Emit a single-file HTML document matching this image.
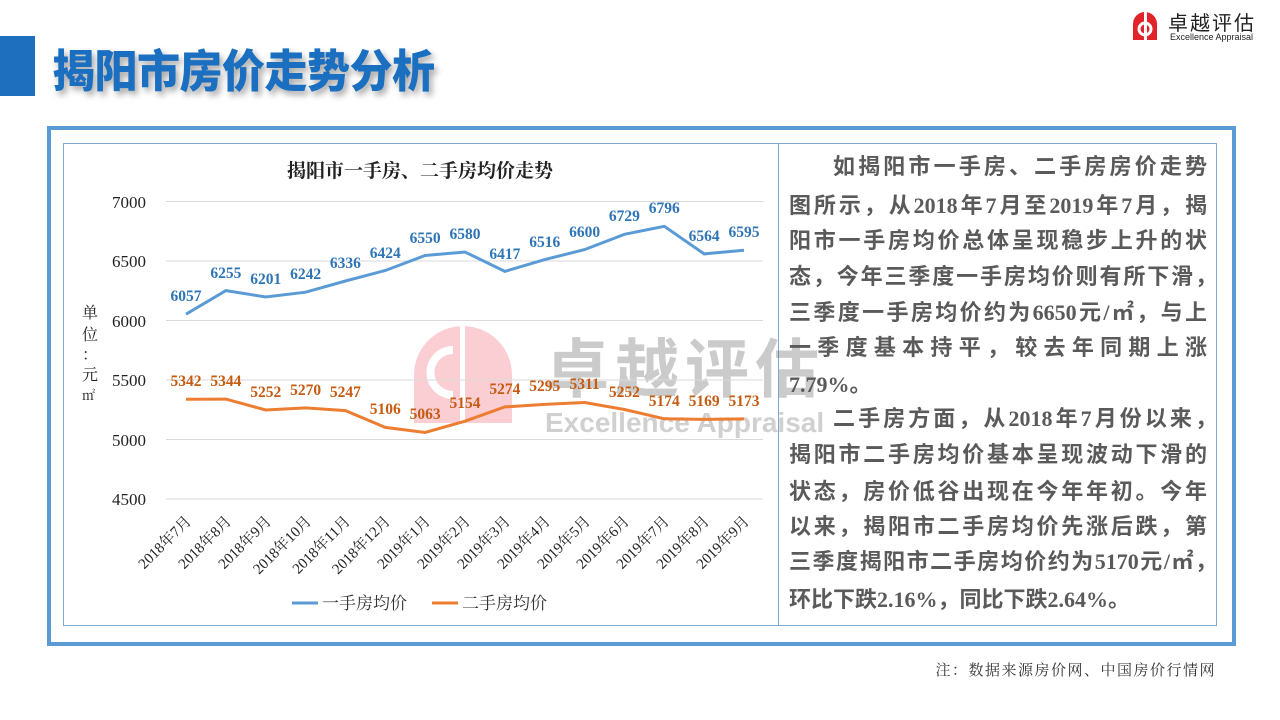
<!DOCTYPE html>
<html><head><meta charset="utf-8"><style>
body{margin:0;width:1280px;height:720px;background:#fff;position:relative;overflow:hidden;font-family:"Liberation Sans","Noto Sans CJK SC",sans-serif}
.l{position:absolute;left:789px;width:418px;font-size:22px;font-weight:bold;color:#5a5a5a;text-align:justify;text-align-last:justify;white-space:nowrap;line-height:26px;font-family:"Liberation Serif","Noto Sans CJK SC",sans-serif}
</style></head><body>
<div style="position:absolute;left:0;top:36px;width:35px;height:60px;background:#1f6fbf"></div>
<div style="position:absolute;left:52px;top:40px;font-size:43px;font-weight:900;color:#1b6fc0;letter-spacing:-0.5px;font-family:'Noto Sans CJK SC',sans-serif;text-shadow:3px 4px 6px rgba(0,0,0,0.35);line-height:56px;transform:scaleY(1.05)">揭阳市房价走势分析</div>
<svg style="position:absolute;left:1127px;top:8px" width="36" height="36"><path d="M6 32 V16 A12 12 0 0 1 30 16 V32 Z" fill="#e0242a"/><rect x="17" y="4" width="3" height="28" fill="#fff"/><circle cx="18" cy="21" r="6" fill="none" stroke="#fff" stroke-width="3"/></svg>
<div style="position:absolute;left:1168px;top:7px;font-size:20px;color:#222;font-family:'Noto Sans CJK SC',sans-serif;letter-spacing:2px">卓越评估</div>
<div style="position:absolute;left:1170px;top:32px;font-size:9px;color:#222">Excellence Appraisal</div>
<div style="position:absolute;left:47px;top:126px;width:1181px;height:512px;border:4px solid #5b9bd5"></div>
<div style="position:absolute;left:63px;top:143px;width:714px;height:481px;border:1px solid #7fa8d0"></div>
<div style="position:absolute;left:778px;top:143px;width:437px;height:481px;border:1px solid #7fa8d0"></div>
<svg style="position:absolute;left:0;top:0" width="1280" height="720" font-family="Liberation Serif,Noto Serif CJK SC,serif">
<g opacity="0.3"><path d="M414 423 V375 A49 49 0 0 1 512 375 V423 Z" fill="#f06070"/><rect x="460" y="322" width="5" height="101" fill="#fff"/><path d="M453 395 A18 18 0 1 1 453 350" fill="none" stroke="#fff" stroke-width="8"/></g>
<g opacity="0.3"><text x="545" y="392" font-size="64" fill="#555" font-family="Noto Sans CJK SC,sans-serif" font-weight="bold" letter-spacing="6">卓越评估</text><text x="545" y="432" font-size="28" fill="#666" font-family="Liberation Sans,sans-serif" font-weight="bold">Excellence Appraisal</text></g>
<text x="420" y="177" font-size="19" font-weight="bold" text-anchor="middle" fill="#222" font-family="Noto Serif CJK SC,serif">揭阳市一手房、二手房均价走势</text>
<g stroke="#d9d9d9" stroke-width="1">
<line x1="166" x2="763" y1="201.5" y2="201.5"/><line x1="166" x2="763" y1="261" y2="261"/><line x1="166" x2="763" y1="320.5" y2="320.5"/><line x1="166" x2="763" y1="380" y2="380"/><line x1="166" x2="763" y1="439.5" y2="439.5"/><line x1="166" x2="763" y1="499" y2="499"/></g>
<g font-size="17" fill="#222" text-anchor="end"><text x="146" y="208">7000</text><text x="146" y="267">6500</text><text x="146" y="327">6000</text><text x="146" y="386">5500</text><text x="146" y="446">5000</text><text x="146" y="505">4500</text></g>
<g font-size="16" fill="#222" font-family="Noto Serif CJK SC,serif"><text x="82" y="318">单</text><text x="82" y="340">位</text><text x="82" y="360">：</text><text x="82" y="380">元</text><text x="82" y="400" font-size="13">㎡</text></g>
<polyline fill="none" stroke="#5b9bd5" stroke-width="3" points="186,314.2 225.9,290.6 265.7,297.0 305.6,292.2 345.4,281.0 385.3,270.5 425.1,255.5 465,252.0 504.9,271.4 544.7,259.6 584.6,249.6 624.4,234.3 664.3,226.3 704.1,253.9 744,250.2"/>
<polyline fill="none" stroke="#ed7d31" stroke-width="3" points="186,399.3 225.9,399.1 265.7,410.0 305.6,407.9 345.4,410.6 385.3,427.4 425.1,432.5 465,421.2 504.9,406.9 544.7,404.4 584.6,402.5 624.4,409.5 664.3,418.8 704.1,419.4 744,418.9"/>
<g font-size="15.5" font-weight="bold" fill="#2e75b6" text-anchor="middle">
<text x="186" y="301">6057</text><text x="225.9" y="278">6255</text><text x="265.7" y="284">6201</text><text x="305.6" y="279">6242</text><text x="345.4" y="268">6336</text><text x="385.3" y="258">6424</text><text x="425.1" y="243">6550</text><text x="465" y="239">6580</text><text x="504.9" y="259">6417</text><text x="544.7" y="247">6516</text><text x="584.6" y="237">6600</text><text x="624.4" y="221">6729</text><text x="664.3" y="213">6796</text><text x="704.1" y="241">6564</text><text x="744" y="237">6595</text></g>
<g font-size="15.5" font-weight="bold" fill="#c55a11" text-anchor="middle">
<text x="186" y="386">5342</text><text x="225.9" y="386">5344</text><text x="265.7" y="397">5252</text><text x="305.6" y="395">5270</text><text x="345.4" y="397">5247</text><text x="385.3" y="414">5106</text><text x="425.1" y="419">5063</text><text x="465" y="408">5154</text><text x="504.9" y="394">5274</text><text x="544.7" y="391">5295</text><text x="584.6" y="389">5311</text><text x="624.4" y="397">5252</text><text x="664.3" y="406">5174</text><text x="704.1" y="406">5169</text><text x="744" y="406">5173</text></g>
<g font-size="15" fill="#222" font-family="Liberation Serif,Noto Serif CJK SC,serif" text-anchor="end">
<text transform="translate(192,522) rotate(-45)">2018年7月</text><text transform="translate(232,522) rotate(-45)">2018年8月</text><text transform="translate(272,522) rotate(-45)">2018年9月</text><text transform="translate(312,522) rotate(-45)">2018年10月</text><text transform="translate(351,522) rotate(-45)">2018年11月</text><text transform="translate(391,522) rotate(-45)">2018年12月</text><text transform="translate(431,522) rotate(-45)">2019年1月</text><text transform="translate(471,522) rotate(-45)">2019年2月</text><text transform="translate(511,522) rotate(-45)">2019年3月</text><text transform="translate(551,522) rotate(-45)">2019年4月</text><text transform="translate(591,522) rotate(-45)">2019年5月</text><text transform="translate(630,522) rotate(-45)">2019年6月</text><text transform="translate(670,522) rotate(-45)">2019年7月</text><text transform="translate(710,522) rotate(-45)">2019年8月</text><text transform="translate(750,522) rotate(-45)">2019年9月</text></g>
<line x1="292" x2="318" y1="603" y2="603" stroke="#5b9bd5" stroke-width="3"/><text x="322" y="609" font-size="17" fill="#333" font-family="Noto Serif CJK SC,serif">一手房均价</text>
<line x1="432" x2="458" y1="603" y2="603" stroke="#ed7d31" stroke-width="3"/><text x="462" y="609" font-size="17" fill="#333" font-family="Noto Serif CJK SC,serif">二手房均价</text>
<text x="1216" y="675" font-size="15" fill="#333" text-anchor="end" font-family="Noto Serif CJK SC,serif" letter-spacing="1.5">注：数据来源房价网、中国房价行情网</text>
</svg>
<div class="l" style="top:154px;left:833px;width:374px">如揭阳市一手房、二手房房价走势</div>
<div class="l" style="top:193px">图所示，从2018年7月至2019年7月，揭</div>
<div class="l" style="top:228px">阳市一手房均价总体呈现稳步上升的状</div>
<div class="l" style="top:264px;width:428px">态，今年三季度一手房均价则有所下滑，</div>
<div class="l" style="top:300px">三季度一手房均价约为6650元/㎡，与上</div>
<div class="l" style="top:335px">一季度基本持平，较去年同期上涨</div>
<div class="l" style="top:372px;text-align-last:left">7.79%。</div>
<div class="l" style="top:406px;left:833px;width:384px">二手房方面，从2018年7月份以来，</div>
<div class="l" style="top:442px">揭阳市二手房均价基本呈现波动下滑的</div>
<div class="l" style="top:479px">状态，房价低谷出现在今年年初。今年</div>
<div class="l" style="top:514px">以来，揭阳市二手房均价先涨后跌，第</div>
<div class="l" style="top:549px;width:428px">三季度揭阳市二手房均价约为5170元/㎡，</div>
<div class="l" style="top:587px;text-align-last:left">环比下跌2.16%，同比下跌2.64%。</div>
</body></html>
